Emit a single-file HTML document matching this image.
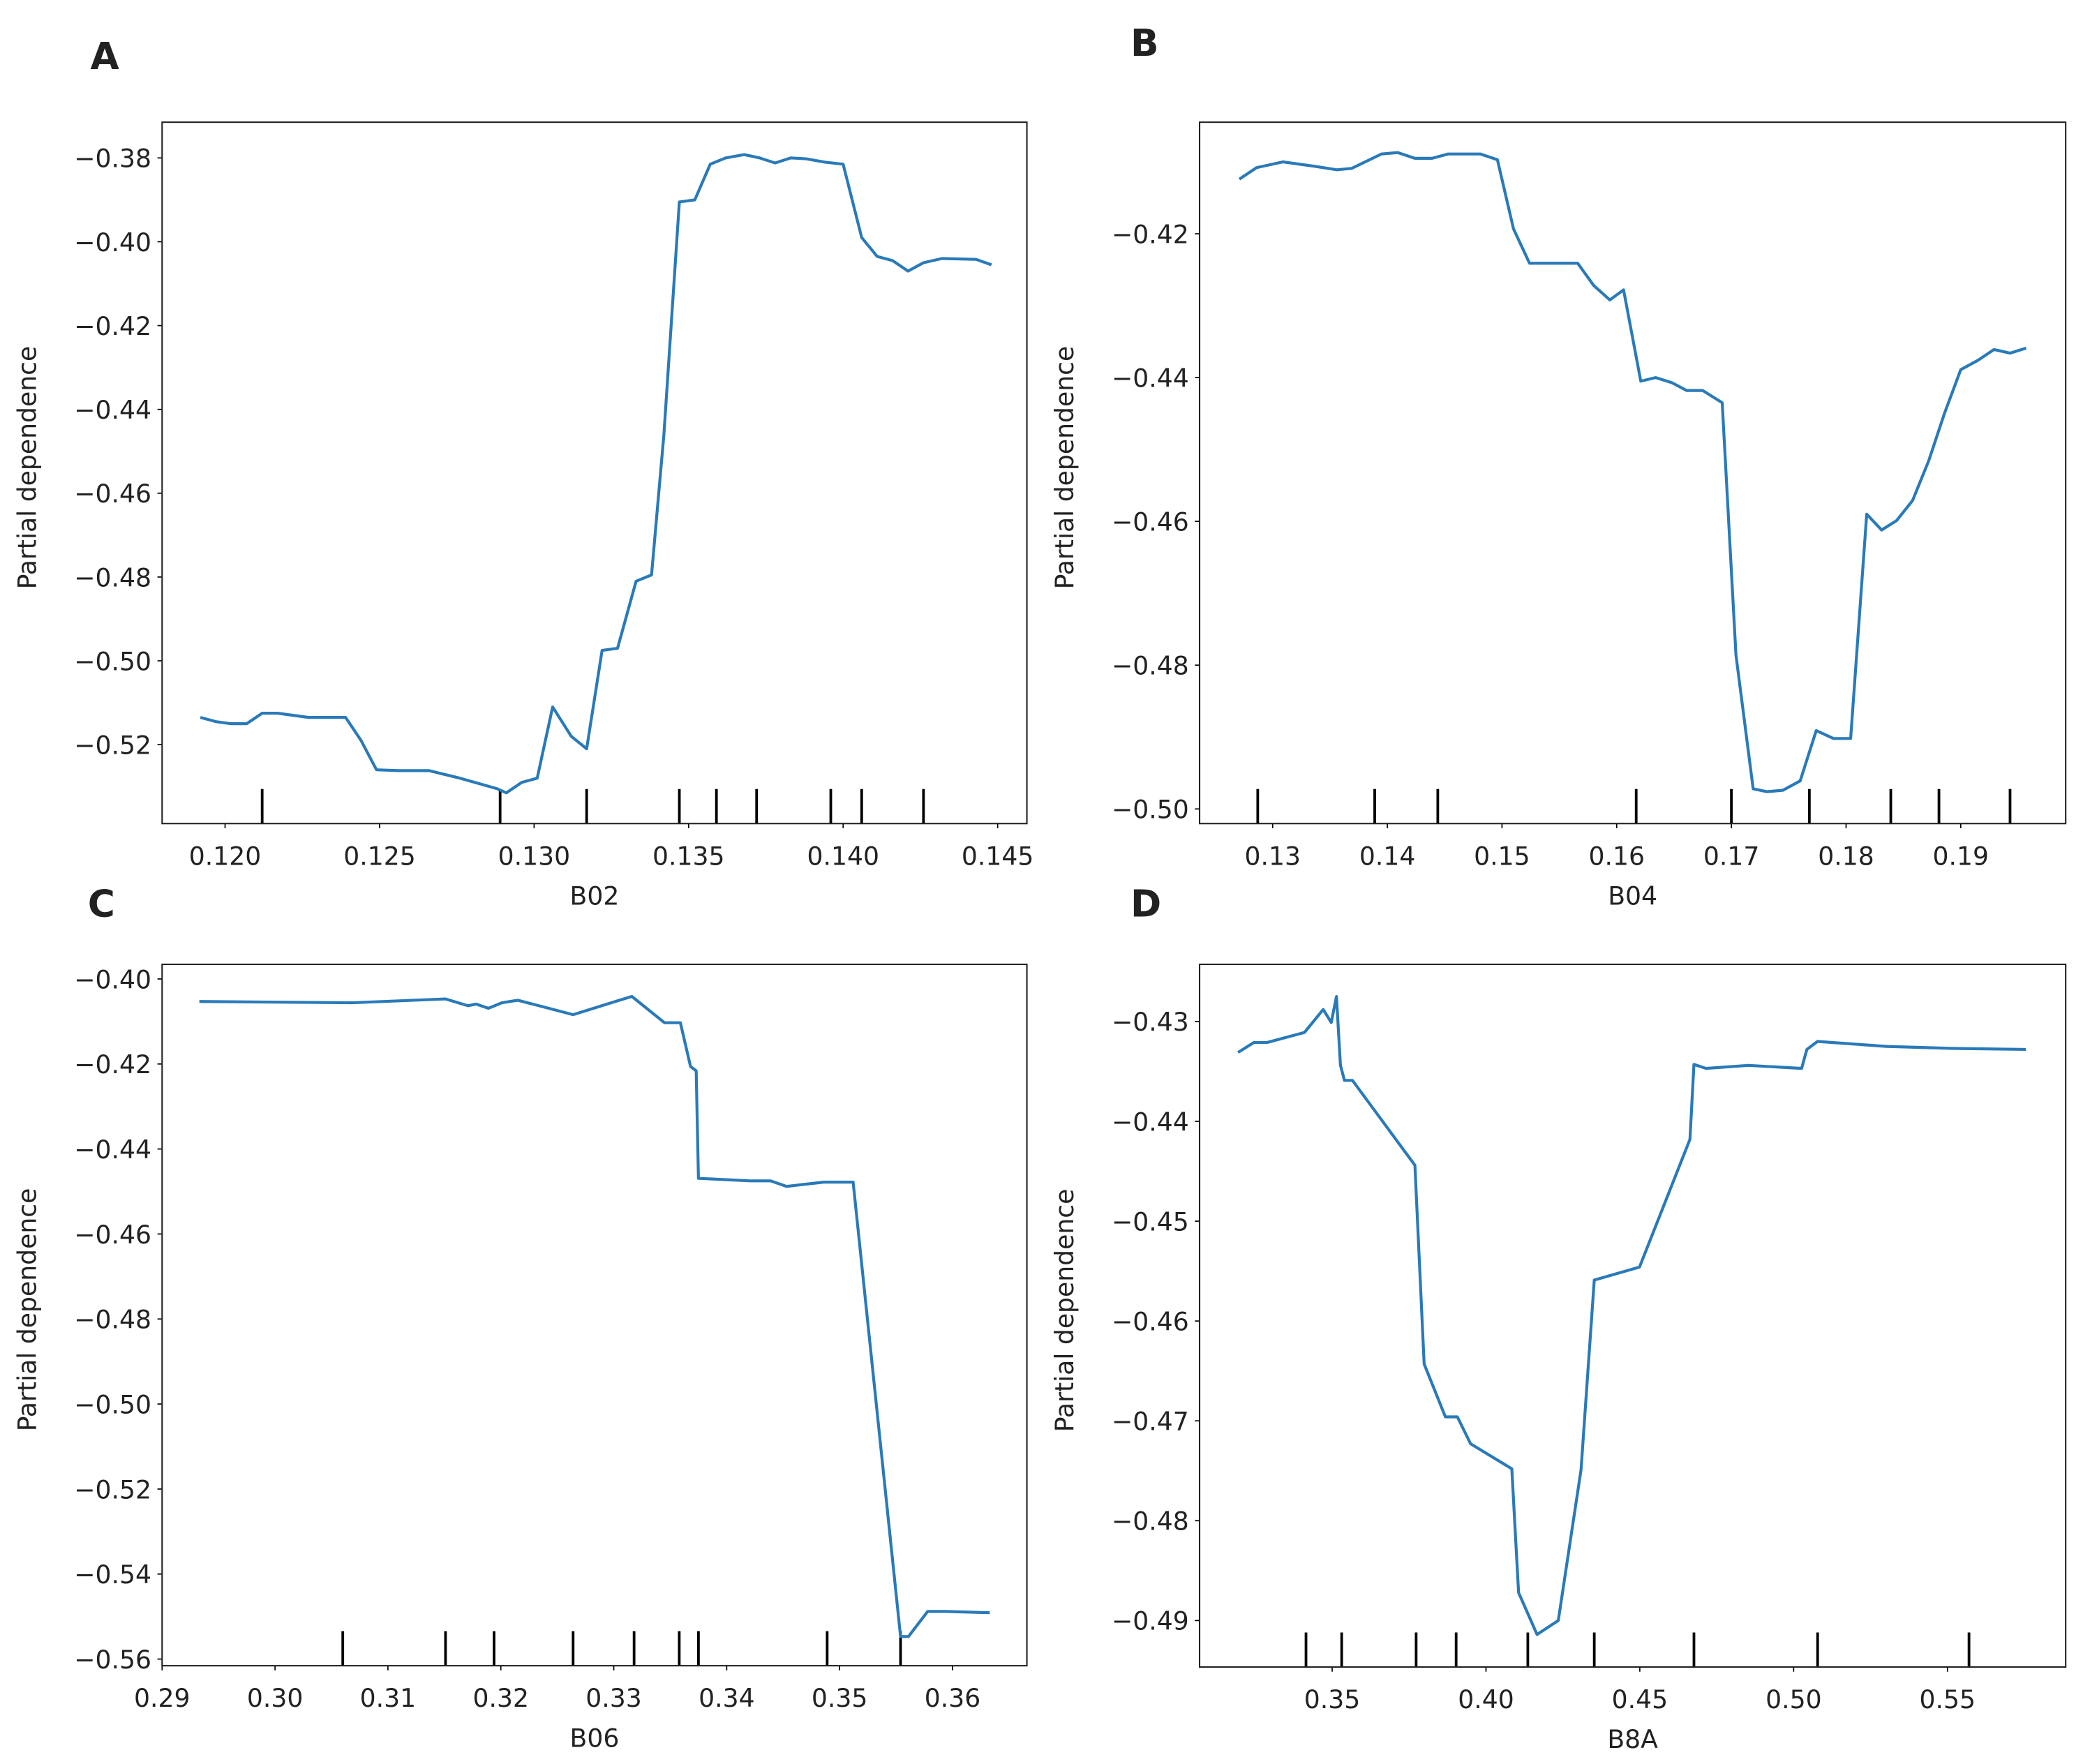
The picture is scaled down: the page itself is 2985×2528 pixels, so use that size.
<!DOCTYPE html>
<html><head><meta charset="utf-8"><style>
html,body{margin:0;padding:0;background:#fff;}
svg{display:block;}
text{font-family:"DejaVu Sans","Liberation Sans",sans-serif;fill:#222;}
</style></head><body>
<svg id="fig" width="2985" height="2528" viewBox="0 0 1568 1328" xmlns="http://www.w3.org/2000/svg"></svg>
<script>
// Panel A (B02)
const aX = [0.1192,0.1197,0.1202,0.1207,0.1212,0.1217,0.1227,0.1239,0.1244,0.1249,0.1256,0.1266,0.1276,0.1288,0.1291,0.1296,0.1301,0.1306,0.1312,0.1317,0.1322,0.1327,0.1333,0.1338,0.1342,0.1347,0.1352,0.1357,0.1362,0.1368,0.1373,0.1378,0.1383,0.1388,0.1394,0.1400,0.1406,0.1411,0.1416,0.1421,0.1426,0.1432,0.1443,0.1448];
const aY = [-0.5135,-0.5145,-0.515,-0.515,-0.5125,-0.5125,-0.5135,-0.5135,-0.519,-0.526,-0.5262,-0.5262,-0.528,-0.5305,-0.5315,-0.529,-0.528,-0.511,-0.518,-0.521,-0.4975,-0.497,-0.481,-0.4795,-0.446,-0.3905,-0.390,-0.3815,-0.380,-0.3792,-0.380,-0.3812,-0.380,-0.3802,-0.381,-0.3815,-0.399,-0.4035,-0.4045,-0.407,-0.405,-0.404,-0.4042,-0.4055];
const aRug = [0.1212,0.1289,0.1317,0.1347,0.1359,0.1372,0.1396,0.1406,0.1426];
const aXTicks = ["0.120","0.125","0.130","0.135","0.140","0.145"];
const aYTicks = ["−0.38","−0.40","−0.42","−0.44","−0.46","−0.48","−0.50","−0.52"];
// Panel B (B04)
const bX = [0.1271,0.1286,0.1309,0.1336,0.1356,0.1369,0.1395,0.1409,0.1424,0.1439,0.1453,0.1481,0.1496,0.1510,0.1524,0.1566,0.1580,0.1594,0.1606,0.1621,0.1634,0.1648,0.1661,0.1675,0.1692,0.1704,0.1719,0.1731,0.1745,0.1760,0.1774,0.1789,0.1804,0.1818,0.1831,0.1844,0.1858,0.1872,0.1886,0.1900,0.1915,0.1929,0.1943,0.1957];
const bY = [-0.4124,-0.4108,-0.4100,-0.4106,-0.4111,-0.4109,-0.4089,-0.4087,-0.4095,-0.4095,-0.4089,-0.4089,-0.4097,-0.4193,-0.4241,-0.4241,-0.4272,-0.4292,-0.4278,-0.4405,-0.4400,-0.4407,-0.4418,-0.4418,-0.4435,-0.4786,-0.4972,-0.4976,-0.4974,-0.4961,-0.4891,-0.4902,-0.4902,-0.4590,-0.4612,-0.4599,-0.4571,-0.4516,-0.4449,-0.4389,-0.4376,-0.4361,-0.4366,-0.4359];
const bRug = [0.1287,0.1389,0.1444,0.1617,0.1700,0.1768,0.1839,0.1881,0.1943];
const bXTicks = ["0.13","0.14","0.15","0.16","0.17","0.18","0.19"];
const bYTicks = ["−0.42","−0.44","−0.46","−0.48","−0.50"];
// Panel C (B06)
const cX = [0.2933,0.3068,0.3151,0.3171,0.3178,0.3189,0.3201,0.3215,0.3264,0.3316,0.3345,0.3359,0.3368,0.3373,0.3375,0.3398,0.3421,0.3439,0.3453,0.3486,0.3512,0.3554,0.3561,0.3578,0.3594,0.3633];
const cY = [-0.4053,-0.4056,-0.4047,-0.4063,-0.4059,-0.4069,-0.4056,-0.4050,-0.4084,-0.4041,-0.4103,-0.4103,-0.4206,-0.4216,-0.4469,-0.4472,-0.4475,-0.4475,-0.4488,-0.4478,-0.4478,-0.5547,-0.5547,-0.5488,-0.5488,-0.5491];
const cRug = [0.3060,0.3151,0.3194,0.3264,0.3318,0.3358,0.3375,0.3489,0.3554];
const cXTicks = ["0.29","0.30","0.31","0.32","0.33","0.34","0.35","0.36"];
const cYTicks = ["−0.40","−0.42","−0.44","−0.46","−0.48","−0.50","−0.52","−0.54","−0.56"];
// Panel D (B8A)
const dX = [0.3194,0.3246,0.3289,0.3410,0.3471,0.3497,0.3514,0.3527,0.3540,0.3566,0.3769,0.3799,0.3868,0.3907,0.3950,0.4084,0.4106,0.4166,0.4235,0.4309,0.4352,0.4499,0.4663,0.4676,0.4715,0.4853,0.5026,0.5043,0.5078,0.5302,0.5518,0.5755];
const dY = [-0.4331,-0.4321,-0.4321,-0.4311,-0.4288,-0.4301,-0.4275,-0.4344,-0.4359,-0.4359,-0.4444,-0.4643,-0.4696,-0.4696,-0.4723,-0.4748,-0.4872,-0.4914,-0.4900,-0.4749,-0.4559,-0.4546,-0.4418,-0.4343,-0.4347,-0.4344,-0.4347,-0.4328,-0.4320,-0.4325,-0.4327,-0.4328];
const dRug = [0.3415,0.3531,0.3773,0.3903,0.4136,0.4352,0.4676,0.5078,0.5570];
const dXTicks = ["0.35","0.40","0.45","0.50","0.55"];
const dYTicks = ["−0.43","−0.44","−0.45","−0.46","−0.47","−0.48","−0.49"];

const NS = "http://www.w3.org/2000/svg";
const svg = document.getElementById('fig');
const FS = 19;
function mk(tag, attrs, parent){const e=document.createElementNS(NS,tag);for(const k in attrs)e.setAttribute(k,attrs[k]);(parent||svg).appendChild(e);return e;}
function num(s){return parseFloat(s.replace('−','-'));}

function panel(cfg){
  const g = mk('g',{});
  
  
  const L=cfg.box[0],R=cfg.box[1],T=cfg.box[2],B=cfg.box[3];
  const sx = v => cfg.xp0 + (v-cfg.xv0)/(cfg.xv1-cfg.xv0)*(cfg.xp1-cfg.xp0);
  const sy = v => cfg.yp0 + (v-cfg.yv0)/(cfg.yv1-cfg.yv0)*(cfg.yp1-cfg.yp0);
  const lt = mk('text',{x:cfg.letterPos[0],y:cfg.letterPos[1],'font-size':28,'font-weight':'bold','font-family':'"Liberation Sans",sans-serif'},g);
  lt.textContent = cfg.letter;
  
  
  cfg.xt.forEach(t=>{
    const x = sx(num(t));
    if(x < L-1 || x > R+1) return;
    mk('line',{x1:x,x2:x,y1:B,y2:B+3.5,stroke:'#000','stroke-width':0.9},g);
    const tx = mk('text',{x:x,y:B+31,'font-size':FS,'text-anchor':'middle'},g);
    tx.textContent = t;
    
    
  });
  cfg.yt.forEach(t=>{
    const y = sy(num(t));
    mk('line',{x1:L-3.5,x2:L,y1:y,y2:y,stroke:'#000','stroke-width':0.9},g);
    const ty = mk('text',{x:L-8,y:y+7,'font-size':FS,'text-anchor':'end'},g);
    ty.textContent = t;
    
    
  });
  cfg.rug.forEach(v=>{
    const x = sx(v);
    const r = mk('line',{x1:x,x2:x,y1:B-26,y2:B,stroke:'#000','stroke-width':2},g);
    
    
  });
  const pts = cfg.xs.map((v,i)=>sx(v).toFixed(2)+','+sy(cfg.ys[i]).toFixed(2)).join(' ');
  const pl = mk('polyline',{points:pts,fill:'none',stroke:'#2a7ab8','stroke-width':2.2,'stroke-linejoin':'round'},g);
  
  
  const fr = mk('rect',{x:L,y:T,width:R-L,height:B-T,fill:'none',stroke:'#222','stroke-width':1.1},g);
  
  
  const xl = mk('text',{x:(L+R)/2,y:B+61,'font-size':FS,'text-anchor':'middle'},g);
  xl.textContent = cfg.xlabel;
  
  
  const cx = L-95, cy=(T+B)/2-4;
  const yl = mk('text',{x:cx,y:cy,'font-size':FS,'text-anchor':'middle',transform:'rotate(-90 '+cx+' '+cy+')'},g);
  yl.textContent = 'Partial dependence';
  
  
}

panel({name:'panel-a-b02',letter:'A',letterPos:[68,52],box:[122,773,92,620],xp0:169.4,xv0:0.120,xp1:751,xv1:0.145,yp0:118.9,yv0:-0.38,yp1:560.6,yv1:-0.52,xs:aX,ys:aY,rug:aRug,xt:aXTicks,yt:aYTicks,xlabel:'B02'});
panel({name:'panel-b-b04',letter:'B',letterPos:[851,42],box:[903,1555,92,620],xp0:958,xv0:0.13,xp1:1476,xv1:0.19,yp0:176,yv0:-0.42,yp1:609,yv1:-0.50,xs:bX,ys:bY,rug:bRug,xt:bXTicks,yt:bYTicks,xlabel:'B04'});
panel({name:'panel-c-b06',letter:'C',letterPos:[66,690],box:[122,773,726,1254],xp0:122,xv0:0.29,xp1:717,xv1:0.36,yp0:737,yv0:-0.40,yp1:1249,yv1:-0.56,xs:cX,ys:cY,rug:cRug,xt:cXTicks,yt:cYTicks,xlabel:'B06'});
panel({name:'panel-d-b8a',letter:'D',letterPos:[851,690],box:[903,1555,726,1255],xp0:1002.8,xv0:0.35,xp1:1466,xv1:0.55,yp0:769,yv0:-0.43,yp1:1220,yv1:-0.49,xs:dX,ys:dY,rug:dRug,xt:dXTicks,yt:dYTicks,xlabel:'B8A'});
</script>
</body></html>
